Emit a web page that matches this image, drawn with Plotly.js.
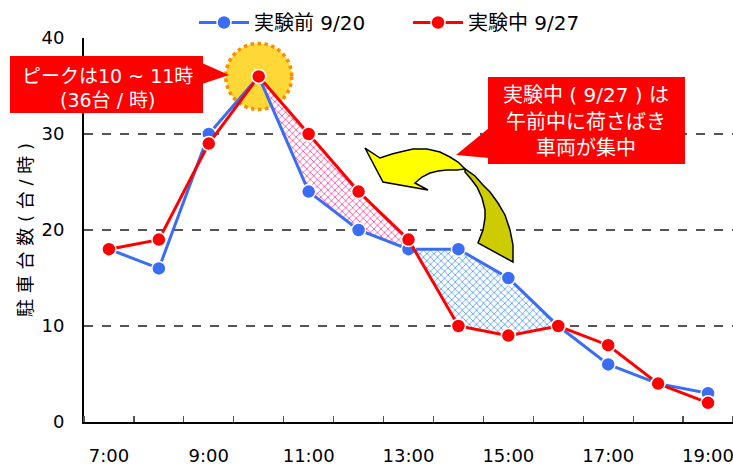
<!DOCTYPE html>
<html>
<head>
<meta charset="utf-8">
<script src="https://cdn.plot.ly/plotly-3.0.1.min.js"></script>
<style>html,body{margin:0;padding:0;background:#fff;}#chart{width:733px;height:470px;}</style>
</head>
<body>
<div id="chart"></div>
<script>
// ---- data ----
const hours = [7, 8, 9, 10, 11, 12, 13, 14, 15, 16, 17, 18, 19];
const before920 = [18, 16, 30, 36, 24, 20, 18, 18, 15, 10, 6, 4, 3];
const during927 = [18, 19, 29, 36, 30, 24, 19, 10, 9, 10, 8, 4, 2];
const tickHours = [7, 9, 11, 13, 15, 17, 19];
const tickLabels = ['7:00', '9:00', '11:00', '13:00', '15:00', '17:00', '19:00'];
const yTicks = [0, 10, 20, 30, 40];
const seriesNames = ['実験前 9/20', '実験中 9/27'];
const yTitle = '駐 車 台 数 ( 台 / 時 )';
const note1Lines = ['ピークは10 ~ 11時', '(36台 / 時)'];
const note2Lines = ['実験中 ( 9/27 ) は', '午前中に荷さばき', '車両が集中'];

const FONT = '"DejaVu Sans", "Noto Sans CJK JP", sans-serif';
const JFONT = '"DejaVu Sans", "Noto Sans CJK JP", sans-serif';
const BLUE = '#3a6cf4';
const RED = '#ff0000';

// pixel -> paper helpers for decorations
const L = 84, T = 38, W = 649, H = 384;
const px = X => (X - L) / W;
const py = Y => (T + H - Y) / H;
const pathOf = pts => 'M ' + pts.map(p => px(p[0]).toFixed(4) + ',' + py(p[1]).toFixed(4)).join(' L ') + ' Z';

// hatched regions built from series
const i10 = hours.indexOf(10), i13 = hours.indexOf(13), i16 = hours.indexOf(16);
const pinkX = hours.slice(i10, i13 + 1).concat(hours.slice(i10, i13 + 1).reverse());
const pinkY = during927.slice(i10, i13 + 1).concat(before920.slice(i10, i13 + 1).reverse());
const blueX = hours.slice(i13, i16 + 1).concat(hours.slice(i13, i16 + 1).reverse());
const blueY = before920.slice(i13, i16 + 1).concat(during927.slice(i13, i16 + 1).reverse());

const traces = [
  {x: pinkX, y: pinkY, type: 'scatter', mode: 'lines', fill: 'toself', line: {width: 0}, fillcolor: 'rgba(0,0,0,0)',
   fillpattern: {shape: 'x', fgcolor: '#ff4fa8', bgcolor: '#ffffff', size: 5, solidity: 0.3}, showlegend: false, hoverinfo: 'skip'},
  {x: blueX, y: blueY, type: 'scatter', mode: 'lines', fill: 'toself', line: {width: 0}, fillcolor: 'rgba(0,0,0,0)',
   fillpattern: {shape: 'x', fgcolor: '#55a0ff', bgcolor: '#ffffff', size: 5, solidity: 0.3}, showlegend: false, hoverinfo: 'skip'},
  {x: hours, y: before920, name: seriesNames[0], type: 'scatter', mode: 'lines+markers', legend: 'legend',
   line: {color: BLUE, width: 3}, marker: {color: BLUE, size: 14, line: {color: '#fff', width: 1.5}}},
  {x: hours, y: during927, name: seriesNames[1], type: 'scatter', mode: 'lines+markers', legend: 'legend2',
   line: {color: RED, width: 3}, marker: {color: RED, size: 14, line: {color: '#fff', width: 1.5}}}
];

const arrowLight = [[365,148],[380,158],[392,154],[400,152],[413,149],[427,149],[440,152],[450,157],[458,162],[465,169],
  [457,170],[447,170],[438,171],[430,173],[422,177],[415,183],[428,190],[383,182]];
const arrowDark = [[465,169],[475,176],[483,185],[490,192],[498,203],[505,215],[510,230],[513,245],[513,262],
  [478,243],[483,230],[485,218],[485,210],[482,198],[477,187],[471,179],[465,172]];

const shapes = [
  {type: 'circle', xref: 'x', yref: 'y', xsizemode: 'pixel', ysizemode: 'pixel', xanchor: 10, yanchor: 36,
   x0: -33, x1: 33, y0: -33, y1: 33, fillcolor: '#ffd838', line: {color: '#ff8c00', width: 3.5, dash: 'dot'}, layer: 'below'},
  // callout 1
  {type: 'rect', xref: 'paper', yref: 'paper', x0: px(10), x1: px(203), y0: py(113), y1: py(56), fillcolor: RED, line: {width: 0}},
  {type: 'path', xref: 'paper', yref: 'paper', path: pathOf([[202,63],[229,75],[202,84]]), fillcolor: RED, line: {width: 0}},
  // callout 2
  {type: 'rect', xref: 'paper', yref: 'paper', x0: px(488), x1: px(685), y0: py(164), y1: py(77), fillcolor: RED, line: {width: 0}},
  {type: 'path', xref: 'paper', yref: 'paper', path: pathOf([[489,128],[456,155],[489,158]]), fillcolor: RED, line: {width: 0}},
  // curved arrow
  {type: 'path', xref: 'paper', yref: 'paper', path: pathOf(arrowDark), fillcolor: '#cccc00', line: {color: '#000', width: 1.5}},
  {type: 'path', xref: 'paper', yref: 'paper', path: pathOf(arrowLight), fillcolor: '#ffff00', line: {color: '#000', width: 1.5}}
];

const annotations = [];
const n1Y = [76, 100];
note1Lines.forEach((t, i) => annotations.push({xref: 'paper', yref: 'paper', x: px(107), y: py(n1Y[i]), text: t,
  showarrow: false, font: {family: JFONT, size: 19, color: '#fff'}, xanchor: 'center', yanchor: 'middle'}));
const n2Y = [95, 122, 148];
note2Lines.forEach((t, i) => annotations.push({xref: 'paper', yref: 'paper', x: px(586), y: py(n2Y[i]), text: t,
  showarrow: false, font: {family: JFONT, size: 20, color: '#fff'}, xanchor: 'center', yanchor: 'middle'}));

const legendBase = {orientation: 'h', yanchor: 'top', y: py(3), xanchor: 'left', itemwidth: 50,
  font: {family: FONT, size: 20, color: '#000'}, bgcolor: 'rgba(0,0,0,0)'};

const layout = {
  width: 733, height: 470,
  margin: {l: L, r: 733 - L - W, t: T, b: 470 - T - H, pad: 0},
  paper_bgcolor: '#fff', plot_bgcolor: '#fff',
  font: {family: FONT, size: 18, color: '#000'},
  showlegend: true,
  legend: Object.assign({}, legendBase, {x: px(194)}),
  legend2: Object.assign({}, legendBase, {x: px(408)}),
  xaxis: {range: [6.5, 19.5], tickmode: 'array', tickvals: tickHours, ticktext: tickLabels, ticks: '',
          showgrid: false, zeroline: false, showline: true, linecolor: '#000', linewidth: 2,
          ticklabelstandoff: 16, ticklabeloverflow: 'allow', tickfont: {family: FONT, size: 18, color: '#000'},
          minor: {tickmode: 'linear', tick0: 6.5, dtick: 1, ticks: 'inside', ticklen: 6, tickcolor: '#555', tickwidth: 1.2, showgrid: false}},
  yaxis: {range: [0, 40], tickmode: 'array', tickvals: yTicks, ticks: '',
          showgrid: true, gridcolor: '#555', griddash: 'dash', gridwidth: 1.2, zeroline: false,
          showline: true, linecolor: '#000', linewidth: 2, ticklabelstandoff: 14,
          tickfont: {family: FONT, size: 18, color: '#000'},
          title: {text: yTitle, font: {family: JFONT, size: 18, color: '#000'}, standoff: 4}},
  shapes: shapes,
  annotations: annotations
};

Plotly.newPlot('chart', traces, layout, {staticPlot: true, displayModeBar: false});
</script>
</body>
</html>
